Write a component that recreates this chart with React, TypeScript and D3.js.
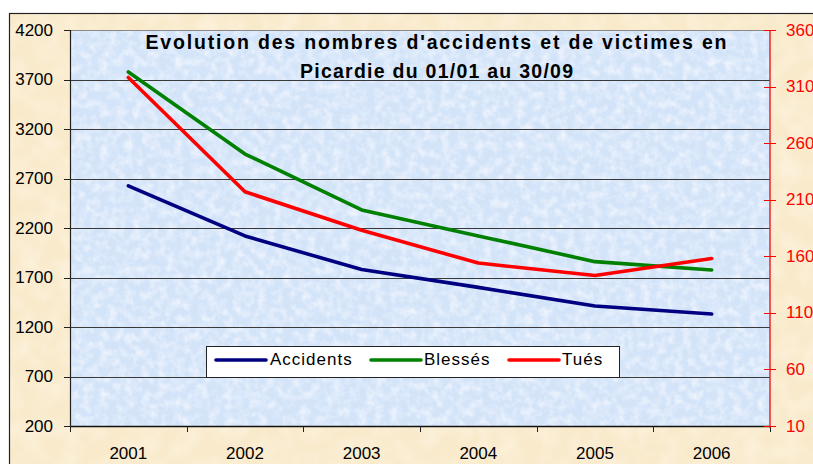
import React from "react";
import * as d3 from "d3";

const years = ["2001", "2002", "2003", "2004", "2005", "2006"];
const accidents = [2625, 2120, 1780, 1600, 1412, 1331];
const blesses = [3776, 2947, 2382, 2120, 1860, 1776];
const tues = [318, 217, 183, 154, 143, 158];
const leftTicks = [200, 700, 1200, 1700, 2200, 2700, 3200, 3700, 4200];
const rightTicks = [10, 60, 110, 160, 210, 260, 310, 360];
const titleLines = ["Evolution des nombres d'accidents et de victimes en", "Picardie du 01/01 au 30/09"];
const legendItems = [
  { name: "Accidents", color: "#000080" },
  { name: "Blessés", color: "#008000" },
  { name: "Tués", color: "#FF0000" },
];

const W = 813, H = 464;
const plot = { left: 70, right: 770, top: 30, bottom: 426 };
const font = "'Liberation Sans', Arial, sans-serif";

export default function App() {
  const x = d3.scaleBand<string>().domain(years).range([plot.left, plot.right]);
  const yL = d3.scaleLinear().domain([200, 4200]).range([plot.bottom, plot.top]);
  const yR = d3.scaleLinear().domain([10, 360]).range([plot.bottom, plot.top]);
  const cx = (d: string) => (x(d) as number) + x.bandwidth() / 2;

  const lineL = d3.line<number>().x((_, i) => cx(years[i])).y((v) => yL(v));
  const lineR = d3.line<number>().x((_, i) => cx(years[i])).y((v) => yR(v));

  const series = [
    { d: lineL(accidents), color: legendItems[0].color },
    { d: lineL(blesses), color: legendItems[1].color },
    { d: lineR(tues), color: legendItems[2].color },
  ];

  const bounds = [...years.map((y) => x(y) as number), plot.right];
  const legendSample = [216, 371, 509];
  const legendText = [270, 424, 562];

  return (
    <svg width={W} height={H} style={{ position: "absolute", left: 0, top: 0 }} fontFamily={font}>
      <defs>
        <filter id="blueTex" x="0" y="0" width="100%" height="100%">
          <feTurbulence type="fractalNoise" baseFrequency="0.12" numOctaves="3" seed="3" result="n" />
          <feColorMatrix in="n" type="matrix"
            values="0 0 0 0 0.97  0 0 0 0 0.97  0 0 0 0 1  1.4 0 0 0 -0.55" result="w" />
          <feComposite in="w" in2="SourceGraphic" operator="in" />
        </filter>
        <filter id="beigeTex" x="0" y="0" width="100%" height="100%">
          <feTurbulence type="fractalNoise" baseFrequency="0.05" numOctaves="2" seed="7" result="n" />
          <feColorMatrix in="n" type="matrix"
            values="0 0 0 0 1  0 0 0 0 0.97  0 0 0 0 0.9  0.8 0 0 0 -0.3" result="w" />
          <feComposite in="w" in2="SourceGraphic" operator="in" />
        </filter>
      </defs>
      <rect x={0} y={0} width={W} height={H} fill="#ffffff" />
      {/* outer chart area */}
      <rect x={9.5} y={13.5} width={900} height={600} fill="#F9EACB" stroke="#222" strokeWidth={1.2} />
      <rect x={10} y={14} width={900} height={600} fill="#F9EACB" filter="url(#beigeTex)" />
      {/* plot area */}
      <rect x={plot.left} y={plot.top} width={plot.right - plot.left} height={plot.bottom - plot.top} fill="#D3E4F9" />
      <rect x={plot.left} y={plot.top} width={plot.right - plot.left} height={plot.bottom - plot.top} fill="#D3E4F9" filter="url(#blueTex)" />

      {/* gridlines */}
      {leftTicks.map((t) => (
        <line key={t} x1={plot.left} x2={plot.right} y1={Math.round(yL(t)) + 0.5} y2={Math.round(yL(t)) + 0.5}
          stroke={t === 4200 ? "#888" : t === 200 ? "#111" : "#3a3a3a"} strokeWidth={t === 200 ? 1.5 : 1} />
      ))}

      {/* left axis */}
      <line x1={plot.left + 0.5} x2={plot.left + 0.5} y1={plot.top} y2={plot.bottom} stroke="#222" strokeWidth={1.2} />
      {leftTicks.map((t) => (
        <g key={"l" + t}>
          <line x1={64} x2={plot.left} y1={Math.round(yL(t)) + 0.5} y2={Math.round(yL(t)) + 0.5} stroke="#222" />
          <text x={53} y={yL(t)} textAnchor="end" dominantBaseline="central" fontSize={17} fill="#000">{t}</text>
        </g>
      ))}

      {/* x axis ticks and labels */}
      {bounds.map((b, i) => (
        <line key={"xb" + i} x1={Math.round(b) + 0.5} x2={Math.round(b) + 0.5} y1={plot.bottom} y2={432} stroke="#222" />
      ))}
      {years.map((y) => (
        <text key={"x" + y} x={cx(y)} y={459} textAnchor="middle" fontSize={17} fill="#000">{y}</text>
      ))}

      {/* right axis */}
      <line x1={plot.right} x2={plot.right} y1={plot.top} y2={plot.bottom + 2} stroke="#E8262A" strokeWidth={1.5} />
      {rightTicks.map((t) => (
        <g key={"r" + t}>
          <line x1={764} x2={776} y1={Math.round(yR(t)) + 0.5} y2={Math.round(yR(t)) + 0.5} stroke="#FF0000" />
          <text x={786} y={yR(t)} dominantBaseline="central" fontSize={17} fill="#FF0000">{t}</text>
        </g>
      ))}

      {/* series */}
      {series.map((s, i) => (
        <path key={i} d={s.d || ""} fill="none" stroke={s.color} strokeWidth={3.6} strokeLinejoin="round" strokeLinecap="round" />
      ))}

      {/* title */}
      <text x={436} y={48.5} textAnchor="middle" fontSize={19.5} fontWeight="bold" fill="#000"
        textLength={581} lengthAdjust="spacing">{titleLines[0]}</text>
      <text x={436.5} y={77.5} textAnchor="middle" fontSize={19.5} fontWeight="bold" fill="#000"
        textLength={273} lengthAdjust="spacing">{titleLines[1]}</text>

      {/* legend */}
      <rect x={206.5} y={346.5} width={413} height={31} fill="#ffffff" stroke="#222" strokeWidth={1} />
      {legendItems.map((it, i) => (
        <g key={it.name}>
          <line x1={legendSample[i]} x2={legendSample[i] + 50} y1={360} y2={360} stroke={it.color} strokeWidth={3.6} strokeLinecap="round" />
          <text x={legendText[i]} y={364.5} fontSize={17} letterSpacing={1} fill="#000">{it.name}</text>
        </g>
      ))}
    </svg>
  );
}
